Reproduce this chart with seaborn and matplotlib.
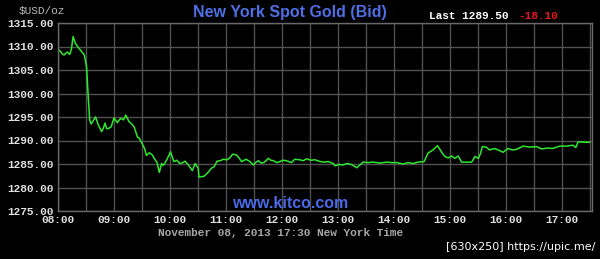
import matplotlib
matplotlib.use("Agg")
import matplotlib.pyplot as plt
import seaborn as sns
import pandas as pd

# Hours after 08:00 New York time and bid price (USD/oz)
hours = [0.00, 0.04, 0.077, 0.11, 0.14, 0.17, 0.21, 0.24, 0.27, 0.31, 0.35, 0.39, 0.43, 0.47, 0.51, 0.54,
         0.566, 0.59, 0.63, 0.67, 0.72, 0.78, 0.81, 0.84, 0.87, 0.91, 0.95, 1.00, 1.06, 1.09, 1.12, 1.17, 1.21,
         1.27, 1.31, 1.36, 1.42, 1.45, 1.50, 1.55, 1.58, 1.63, 1.68, 1.73, 1.77, 1.81, 1.85, 1.88, 1.91, 1.96, 2.01,
         2.07, 2.12, 2.18, 2.23, 2.27, 2.33, 2.40, 2.45, 2.505, 2.52, 2.56, 2.61, 2.68, 2.74, 2.79, 2.84, 2.90,
         2.95, 3.02, 3.07, 3.12, 3.19, 3.24, 3.28, 3.36, 3.42, 3.49, 3.53, 3.58, 3.63, 3.68, 3.76, 3.80, 3.85, 3.91, 3.96,
         4.02, 4.08, 4.17, 4.23, 4.32, 4.38, 4.44, 4.52, 4.59, 4.66, 4.74, 4.83, 4.92, 4.95, 5.02, 5.09, 5.16, 5.24, 5.34,
         5.45, 5.54, 5.63, 5.75, 5.87, 5.96, 6.05, 6.17, 6.25, 6.34, 6.43, 6.54, 6.61, 6.70, 6.78,
         6.85, 6.91, 6.97, 7.03, 7.09, 7.15, 7.21, 7.30, 7.39, 7.45, 7.51, 7.55, 7.58,
         7.65, 7.71, 7.80, 7.88, 7.95, 8.04, 8.12, 8.19, 8.31, 8.43, 8.55, 8.64, 8.74, 8.84, 8.96,
         9.08, 9.20, 9.25, 9.29, 9.50]
prices = [1309.4, 1309.0, 1308.4, 1308.2, 1308.6, 1308.8, 1308.3, 1309.5, 1312.1, 1310.7, 1310.0, 1309.4, 1308.8, 1308.2, 1305.7, 1299.3,
          1294.4, 1293.5, 1294.2, 1295.0, 1293.3, 1291.9, 1292.6, 1293.7, 1292.5, 1292.6, 1292.9, 1294.8, 1293.8, 1294.3, 1294.7, 1294.4, 1295.4,
          1294.0, 1293.6, 1292.9, 1290.7, 1290.5, 1289.4, 1288.2, 1286.8, 1287.4, 1287.0, 1286.0, 1285.3, 1283.2, 1285.1, 1284.7, 1285.2, 1286.3, 1287.6,
          1285.5, 1285.8, 1285.1, 1285.3, 1285.6, 1284.8, 1283.6, 1285.1, 1284.1, 1282.2, 1282.3, 1282.4, 1283.2, 1284.1, 1284.4, 1285.6, 1285.7,
          1286.0, 1285.9, 1286.3, 1287.1, 1286.9, 1286.2, 1285.5, 1286.0, 1285.6, 1284.8, 1285.3, 1285.7, 1285.2, 1285.3, 1286.2, 1285.8, 1285.7, 1285.3, 1285.5,
          1285.8, 1285.7, 1285.3, 1286.0, 1285.9, 1285.7, 1286.1, 1285.8, 1285.9, 1285.6, 1285.4, 1285.5, 1285.1, 1284.6, 1284.9, 1284.8, 1285.1, 1284.9, 1284.2,
          1285.4, 1285.3, 1285.4, 1285.2, 1285.4, 1285.3, 1285.3, 1285.0, 1285.3, 1285.1, 1285.4, 1285.5, 1287.3, 1288.0, 1288.9,
          1287.6, 1286.6, 1286.3, 1286.7, 1286.2, 1286.7, 1285.4, 1285.4, 1285.4, 1286.6, 1286.2, 1287.3, 1288.7,
          1288.6, 1288.0, 1288.3, 1287.9, 1287.5, 1288.3, 1288.0, 1288.1, 1288.8, 1288.6, 1288.7, 1288.2, 1288.4, 1288.3, 1288.8,
          1288.8, 1289.0, 1288.5, 1289.7, 1289.6]
x_tick_labels = ["08:00", "09:00", "10:00", "11:00", "12:00", "13:00",
                 "14:00", "15:00", "16:00", "17:00"]
y_ticks = [1275, 1280, 1285, 1290, 1295, 1300, 1305, 1310, 1315]

df = pd.DataFrame({"t": hours, "price": prices})

sns.set_style("dark")
plt.rcParams["font.family"] = ["DejaVu Sans"]

fig = plt.figure(figsize=(6.0, 2.59), dpi=100, facecolor="black")
ax = fig.add_axes([58 / 600, 48 / 259, 534 / 600, 188 / 259])
ax.set_facecolor("black")

sns.lineplot(data=df, x="t", y="price", ax=ax, color="#2ee82e", linewidth=1.1)

ax.set_xlim(0, 9.54)
ax.set_ylim(1275, 1315)
ax.set_xticks([i * 0.5 for i in range(20)])
ax.set_xticklabels([x_tick_labels[i // 2] if i % 2 == 0 else "" for i in range(20)])
ax.set_yticks(y_ticks)
ax.set_yticklabels([f"{v:.2f}" for v in y_ticks])
ax.grid(True, color="#515151", linewidth=1.0)
ax.tick_params(axis="both", length=0, colors="#e0e0e0", labelsize=8, pad=3)
for lab in ax.get_xticklabels() + ax.get_yticklabels():
    lab.set_fontfamily("Liberation Mono")
    lab.set_fontweight("bold")
for s in ax.spines.values():
    s.set_visible(True)
    s.set_color("#6a6a6a")
    s.set_linewidth(1.0)
ax.set_xlabel("")
ax.set_ylabel("")

fig.text(290 / 600, 1 - 12 / 259, "New York Spot Gold (Bid)", ha="center", va="center",
         color="#4f6fe6", fontsize=11.5, fontweight="bold", family="Liberation Sans")
fig.text(429 / 600, 1 - 16 / 259, "Last 1289.50", ha="left", va="center",
         color="white", fontsize=8, fontweight="bold", family="Liberation Mono")
fig.text(518 / 600, 1 - 16 / 259, "-18.10", ha="left", va="center",
         color="#ee1515", fontsize=8, fontweight="bold", family="Liberation Mono")
fig.text(19 / 600, 1 - 11 / 259, "$USD/oz", ha="left", va="center",
         color="#b8b8b8", fontsize=8, family="Liberation Mono")
fig.text(290 / 600, 1 - 203 / 259, "www.kitco.com", ha="center", va="center",
         color="#4a6ae8", fontsize=11.5, fontweight="bold", family="Liberation Sans")
fig.text(281 / 600, 1 - 233 / 259, "November 08, 2013 17:30 New York Time", ha="center",
         va="center", color="#a8a8a8", fontsize=8, fontweight="bold", family="Liberation Mono")
fig.text(595 / 600, 1 - 247 / 259, "[630x250] https://upic.me/", ha="right", va="center",
         color="white", fontsize=8, family="Liberation Sans Narrow")

fig.savefig("out.png", dpi=100, facecolor="black")
